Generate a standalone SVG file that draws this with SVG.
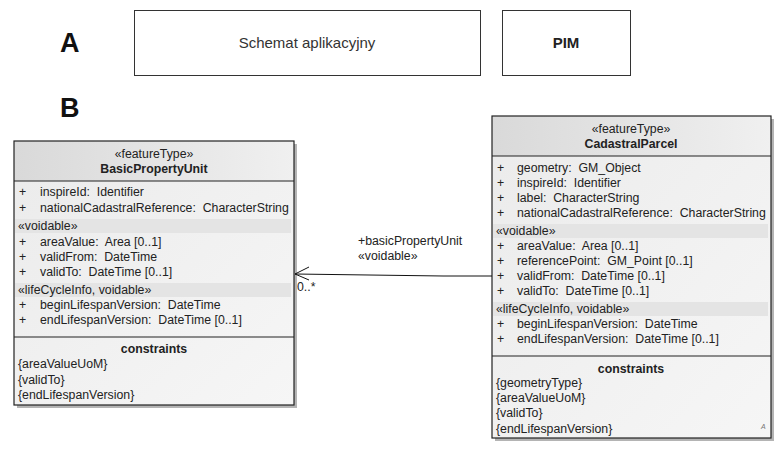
<svg xmlns="http://www.w3.org/2000/svg" width="783" height="449" viewBox="0 0 783 449">
<defs>
<linearGradient id="hdr" x1="0" y1="0" x2="1" y2="0">
<stop offset="0" stop-color="#d9d9d9"/>
<stop offset="1" stop-color="#f0f0f0"/>
</linearGradient>
<linearGradient id="body" x1="0" y1="0" x2="1" y2="1">
<stop offset="0" stop-color="#ebebeb"/>
<stop offset="1" stop-color="#f6f6f6"/>
</linearGradient>
</defs>
<style>
text{font-family:"Liberation Sans",Arial,sans-serif;font-size:12.3px;fill:#222;white-space:pre}
.b{font-weight:bold}
.c{text-anchor:middle}
.big{font-size:27px;font-weight:bold;fill:#111}
.top{font-size:15px;fill:#333}
.frame{fill:#fff;stroke:#333;stroke-width:1}
.box{stroke:#222;stroke-width:1.2}
.shadow{fill:#b4b4b4}
.band{fill:#e4e4e4}
.sep{stroke:#222;stroke-width:1.2}
.conn{fill:none;stroke:#111;stroke-width:1}
</style>

<g id="labelA"><text class="big" x="60" y="52">A</text></g>
<g id="labelB"><text class="big" x="60" y="117">B</text></g>

<g id="schemat">
<rect class="frame" x="134.5" y="10.5" width="346" height="65"/>
<text class="top c" x="307" y="48">Schemat aplikacyjny</text>
</g>
<g id="pim">
<rect class="frame" x="502.5" y="10.5" width="128" height="65"/>
<text class="top c b" x="566" y="48" style="font-weight:bold;fill:#222">PIM</text>
</g>

<g id="BasicPropertyUnit">
<rect class="shadow" x="17" y="144" width="280" height="264"/>
<rect x="14" y="141" width="280" height="264" fill="url(#body)"/>
<rect x="14" y="141" width="280" height="40" fill="url(#hdr)"/>
<rect class="band" x="15" y="219" width="276" height="14"/>
<rect class="band" x="15" y="283" width="276" height="14"/>
<rect x="14" y="141" width="280" height="264" fill="none" class="box"/>
<line class="sep" x1="14" y1="181" x2="294" y2="181"/>
<line class="sep" x1="14" y1="337" x2="294" y2="337"/>
<text class="c" x="154" y="158">«featureType»</text>
<text class="c b" x="154" y="173">BasicPropertyUnit</text>
<text x="19" y="196">+</text><text x="40" y="196">inspireId:  Identifier</text>
<text x="19" y="212">+</text><text x="40" y="212">nationalCadastralReference:  CharacterString</text>
<text x="18" y="230">«voidable»</text>
<text x="19" y="246">+</text><text x="40" y="246">areaValue:  Area [0..1]</text>
<text x="19" y="261">+</text><text x="40" y="261">validFrom:  DateTime</text>
<text x="19" y="276">+</text><text x="40" y="276">validTo:  DateTime [0..1]</text>
<text x="18" y="294">«lifeCycleInfo, voidable»</text>
<text x="19" y="309">+</text><text x="40" y="309">beginLifespanVersion:  DateTime</text>
<text x="19" y="324">+</text><text x="40" y="324">endLifespanVersion:  DateTime [0..1]</text>
<text class="c b" x="154" y="353">constraints</text>
<text x="18" y="368">{areaValueUoM}</text>
<text x="18" y="384">{validTo}</text>
<text x="18" y="399">{endLifespanVersion}</text>
</g>

<g id="CadastralParcel">
<rect class="shadow" x="495" y="119" width="279" height="322"/>
<rect x="492" y="116" width="279" height="322" fill="url(#body)"/>
<rect x="492" y="116" width="279" height="40" fill="url(#hdr)"/>
<rect class="band" x="493" y="224" width="275" height="14"/>
<rect class="band" x="493" y="302" width="275" height="14"/>
<rect x="492" y="116" width="279" height="322" fill="none" class="box"/>
<line class="sep" x1="492" y1="156" x2="771" y2="156"/>
<line class="sep" x1="492" y1="356" x2="771" y2="356"/>
<text class="c" x="631" y="133">«featureType»</text>
<text class="c b" x="631" y="148">CadastralParcel</text>
<text x="497" y="172">+</text><text x="517" y="172">geometry:  GM_Object</text>
<text x="497" y="187">+</text><text x="517" y="187">inspireId:  Identifier</text>
<text x="497" y="202">+</text><text x="517" y="202">label:  CharacterString</text>
<text x="497" y="217">+</text><text x="517" y="217">nationalCadastralReference:  CharacterString</text>
<text x="496" y="235">«voidable»</text>
<text x="497" y="250">+</text><text x="517" y="250">areaValue:  Area [0..1]</text>
<text x="497" y="265">+</text><text x="517" y="265">referencePoint:  GM_Point [0..1]</text>
<text x="497" y="280">+</text><text x="517" y="280">validFrom:  DateTime [0..1]</text>
<text x="497" y="295">+</text><text x="517" y="295">validTo:  DateTime [0..1]</text>
<text x="496" y="313">«lifeCycleInfo, voidable»</text>
<text x="497" y="328">+</text><text x="517" y="328">beginLifespanVersion:  DateTime</text>
<text x="497" y="343">+</text><text x="517" y="343">endLifespanVersion:  DateTime [0..1]</text>
<text class="c b" x="631" y="373">constraints</text>
<text x="496" y="387">{geometryType}</text>
<text x="496" y="402">{areaValueUoM}</text>
<text x="496" y="417">{validTo}</text>
<text x="496" y="433">{endLifespanVersion}</text>
<text x="761" y="429" style="font-size:7px;font-style:italic;fill:#777">A</text>
</g>

<g id="connectors">
<polyline class="conn" points="492,276 443,276 295,274"/>
<polyline class="conn" points="309,267 295,274 309,280"/>
<text x="358" y="245">+basicPropertyUnit</text>
<text x="358" y="260">«voidable»</text>
<text x="297" y="291">0..*</text>
</g>
</svg>
